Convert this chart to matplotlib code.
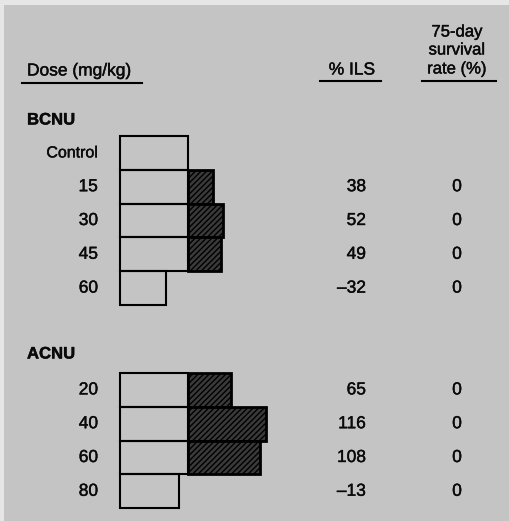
import matplotlib
matplotlib.use("Agg")
import matplotlib.pyplot as plt
from matplotlib.patches import Rectangle
import matplotlib.patheffects as pe

plt.rcParams['font.family'] = ['Liberation Sans', 'DejaVu Sans']
plt.rcParams['hatch.linewidth'] = 1.0

# ---- data ----
bcnu_doses = ['Control', '15', '30', '45', '60']
bcnu_ils = [0, 38, 52, 49, -32]
bcnu_ils_text = ['', '38', '52', '49', '\u201332']
bcnu_surv = ['', '0', '0', '0', '0']

acnu_doses = ['20', '40', '60', '80']
acnu_ils = [65, 116, 108, -13]
acnu_ils_text = ['65', '116', '108', '\u201313']
acnu_surv = ['0', '0', '0', '0']

W, H = 509, 521
fig = plt.figure(figsize=(W / 100, H / 100), dpi=100)
fig.patch.set_facecolor('#e6e6e6')

tx = fig.add_axes([0, 0, 1, 1])
tx.set_xlim(0, W)
tx.set_ylim(H, 0)
tx.axis('off')
tx.add_patch(Rectangle((4, 5), W, H, facecolor='#c4c4c4', edgecolor='none', zorder=0))

x0_px, px_per_pct = 120.0, 0.675
ax = fig.add_axes([0, 0, 1, 1])
ax.set_xlim(-x0_px / px_per_pct, (W - x0_px) / px_per_pct)
ax.set_ylim(H, 0)
ax.axis('off')
ax.patch.set_alpha(0)

row_h = 33.8
fs = 12
lw = 1.5
col = '#0a0a0a'
heavy = [pe.withStroke(linewidth=0.3, foreground=col)]


def T(x, y, s, **kw):
    kw.setdefault('fontsize', fs)
    kw.setdefault('color', col)
    return tx.text(x, y, s, path_effects=heavy, **kw)


def draw_group(top, doses, ils, ils_text, surv):
    for i, (d, v, t, s) in enumerate(zip(doses, ils, ils_text, surv)):
        yc = top + row_h * (i + 0.5)
        base = min(100, 100 + v)
        ax.barh(yc, base, height=row_h, left=0, facecolor='none',
                edgecolor='black', linewidth=lw, zorder=2)
        if v > 0:
            ax.barh(yc, v, height=row_h, left=100, facecolor='#3a3a3a',
                    edgecolor='black', linewidth=2.0, hatch='//////', zorder=3)
        T(98, yc, d, ha='right', va='center', fontsize=11.5 if d == 'Control' else 12.5)
        T(366, yc, t, ha='right', va='center', fontsize=12.5)
        T(457, yc, s, ha='center', va='center', fontsize=12.5)


T(27, 71, 'Dose (mg/kg)', ha='left', va='center', fontsize=fs + 0.5)
tx.plot([22, 142], [83, 83], color='black', lw=1.5)
T(352, 70, '% ILS', ha='center', va='center', fontsize=fs + 0.5)
tx.plot([320, 381], [81, 81], color='black', lw=1.5)
T(457, 32, '75-day', ha='center', va='center')
T(457, 50, 'survival', ha='center', va='center')
T(457, 69, 'rate (%)', ha='center', va='center')
tx.plot([422, 496], [81, 81], color='black', lw=1.5)

T(27, 120, 'BCNU', ha='left', va='center', fontweight='bold')
T(27, 354, 'ACNU', ha='left', va='center', fontweight='bold')

draw_group(136, bcnu_doses, bcnu_ils, bcnu_ils_text, bcnu_surv)
draw_group(373, acnu_doses, acnu_ils, acnu_ils_text, acnu_surv)

fig.savefig('out.png', dpi=100, facecolor=fig.get_facecolor())
